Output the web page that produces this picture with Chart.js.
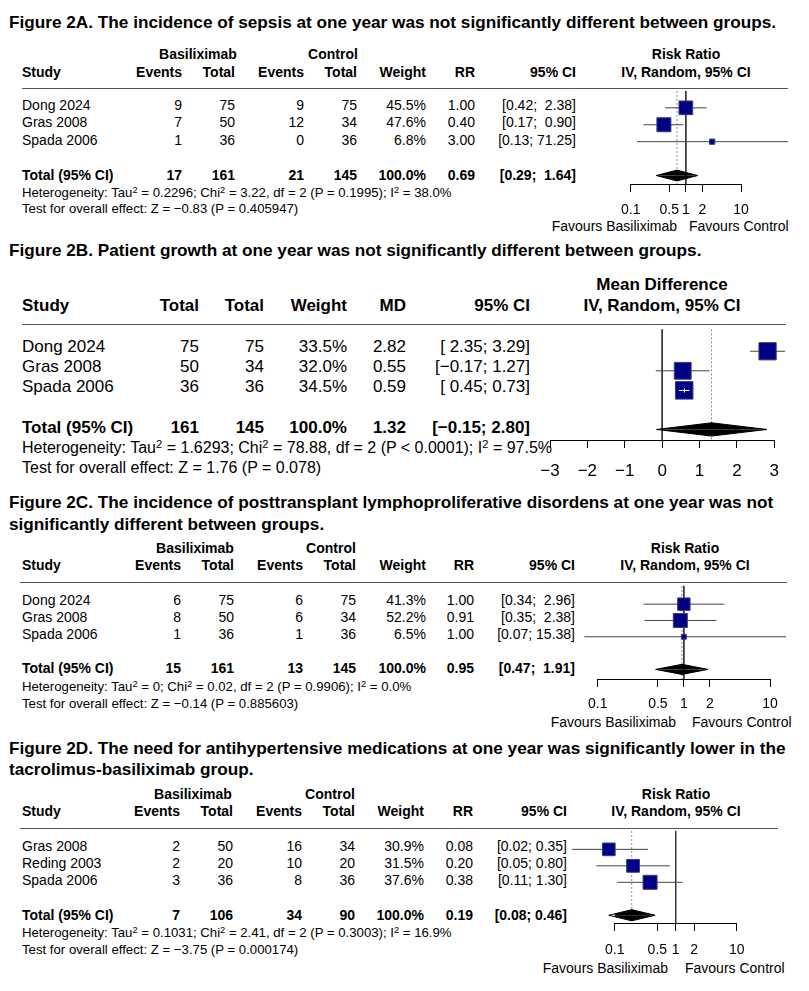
<!DOCTYPE html>
<html>
<head>
<meta charset="utf-8">
<script src="https://cdn.jsdelivr.net/npm/chart.js@4.4.1/dist/chart.umd.min.js"></script>
<style>
  body { margin: 0; background: #fff; }
  #page { position: relative; width: 809px; height: 991px; overflow: hidden;
          font-family: "Liberation Sans", Arial, sans-serif; color: #000; }
  .t { position: absolute; white-space: pre; line-height: 1; }
  .b { font-weight: bold; }
  .rule { position: absolute; height: 0; border-top: 1px solid #555; }
  canvas { position: absolute; }
  sup { font-size: 70%; line-height: 0; vertical-align: 0.45em; }
</style>
</head>
<body>
<div id="page"></div>
<script>
// ---- Figure 2A : sepsis ----
const studiesA = ["Dong 2024", "Gras 2008", "Spada 2006"];
const evBasA = [9, 7, 1];
const totBasA = [75, 50, 36];
const evCtlA = [9, 12, 0];
const totCtlA = [75, 34, 36];
const weightA = [45.5, 47.6, 6.8];
const rrA = [1.00, 0.40, 3.00];
const loA = [0.42, 0.17, 0.13];
const hiA = [2.38, 0.90, 71.25];
const pooledA = [0.69, 0.29, 1.64];
const hetA = "Heterogeneity: Tau<sup>2</sup> = 0.2296; Chi<sup>2</sup> = 3.22, df = 2 (P = 0.1995); I<sup>2</sup> = 38.0%";
const testA = "Test for overall effect: Z = \u22120.83 (P = 0.405947)";

// ---- Figure 2B : growth ----
const studiesB = ["Dong 2024", "Gras 2008", "Spada 2006"];
const totBasB = [75, 50, 36];
const totCtlB = [75, 34, 36];
const weightB = [33.5, 32.0, 34.5];
const mdB = [2.82, 0.55, 0.59];
const loB = [2.35, -0.17, 0.45];
const hiB = [3.29, 1.27, 0.73];
const pooledB = [1.32, -0.15, 2.80];
const hetB = "Heterogeneity: Tau<sup>2</sup> = 1.6293; Chi<sup>2</sup> = 78.88, df = 2 (P &lt; 0.0001); I<sup>2</sup> = 97.5%";
const testB = "Test for overall effect: Z = 1.76 (P = 0.078)";

// ---- Figure 2C : PTLD ----
const studiesC = ["Dong 2024", "Gras 2008", "Spada 2006"];
const evBasC = [6, 8, 1];
const totBasC = [75, 50, 36];
const evCtlC = [6, 6, 1];
const totCtlC = [75, 34, 36];
const weightC = [41.3, 52.2, 6.5];
const rrC = [1.00, 0.91, 1.00];
const loC = [0.34, 0.35, 0.07];
const hiC = [2.96, 2.38, 15.38];
const pooledC = [0.95, 0.47, 1.91];
const hetC = "Heterogeneity: Tau<sup>2</sup> = 0; Chi<sup>2</sup> = 0.02, df = 2 (P = 0.9906); I<sup>2</sup> = 0.0%";
const testC = "Test for overall effect: Z = \u22120.14 (P = 0.885603)";

// ---- Figure 2D : antihypertensives ----
const studiesD = ["Gras 2008", "Reding 2003", "Spada 2006"];
const evBasD = [2, 2, 3];
const totBasD = [50, 20, 36];
const evCtlD = [16, 10, 8];
const totCtlD = [34, 20, 36];
const weightD = [30.9, 31.5, 37.6];
const rrD = [0.08, 0.20, 0.38];
const loD = [0.02, 0.05, 0.11];
const hiD = [0.35, 0.80, 1.30];
const pooledD = [0.19, 0.08, 0.46];
const hetD = "Heterogeneity: Tau<sup>2</sup> = 0.1031; Chi<sup>2</sup> = 2.41, df = 2 (P = 0.3003); I<sup>2</sup> = 16.9%";
const testD = "Test for overall effect: Z = \u22123.75 (P = 0.000174)";

const ticksRR = [0.1, 0.5, 1, 2, 10];
const ticksMD = [-3, -2, -1, 0, 1, 2, 3];

const titles = [
  ["Figure 2A. The incidence of sepsis at one year was not significantly different between groups."],
  ["Figure 2B. Patient growth at one year was not significantly different between groups."],
  ["Figure 2C. The incidence of posttransplant lymphoproliferative disordens at one year was not",
   "significantly different between groups."],
  ["Figure 2D. The need for antihypertensive medications at one year was significantly lower in the",
   "tacrolimus-basiliximab group."]
];

Chart.defaults.font.family = '"Liberation Sans", Arial, sans-serif';
Chart.defaults.color = "#000";

const page = document.getElementById("page");

function put(s, x, y, size, align, bold) {
  const d = document.createElement("div");
  d.className = "t" + (bold ? " b" : "");
  d.style.fontSize = size + "px";
  d.style.top = (y - 0.49 * size) + "px";
  d.style.left = x + "px";
  if (align === "r") d.style.transform = "translateX(-100%)";
  if (align === "c") d.style.transform = "translateX(-50%)";
  d.innerHTML = s;
  page.appendChild(d);
  return d;
}

function rule(x1, x2, y) {
  const d = document.createElement("div");
  d.className = "rule";
  d.style.left = x1 + "px";
  d.style.width = (x2 - x1) + "px";
  d.style.top = y + "px";
  page.appendChild(d);
}

function fmt(v) {
  return (v < 0 ? "\u2212" : "") + Math.abs(v).toFixed(2);
}

function ciText(los, his) {
  const L = los.map(fmt), H = his.map(fmt);
  const wl = Math.max(...L.map(s => s.length));
  const wh = Math.max(...H.map(s => s.length));
  return L.map((l, i) => "[" + l.padStart(wl) + "; " + H[i].padStart(wh) + "]");
}

const sum = a => a.reduce((s, v) => s + v, 0);

// white CI segment when the interval sits inside its box
const innerCI = {
  id: "innerCI",
  afterDatasetsDraw(chart, args, o) {
    if (!o || !o.est) return;
    const xs = chart.scales.x, ys = chart.scales.y, ctx = chart.ctx;
    o.est.forEach((e, i) => {
      const a = xs.getPixelForValue(o.lo[i]);
      const b = xs.getPixelForValue(o.hi[i]);
      const c = xs.getPixelForValue(e);
      const h = o.sides[i] / 2;
      if (a > c - h && b < c + h) {
        const y = Math.round(ys.getPixelForValue(i + 1)) + 0.5;
        ctx.save();
        ctx.strokeStyle = "#fff";
        ctx.lineWidth = 1;
        ctx.beginPath();
        ctx.moveTo(a, y); ctx.lineTo(b, y);
        ctx.moveTo(Math.round(c) + 0.5, y - 2); ctx.lineTo(Math.round(c) + 0.5, y + 2);
        ctx.stroke();
        ctx.restore();
      }
    });
  }
};

function forest(p) {
  const cv = document.createElement("canvas");
  cv.width = p.box.w; cv.height = p.box.h;
  cv.style.left = p.box.x + "px"; cv.style.top = p.box.y + "px";
  page.appendChild(cv);

  const wmax = Math.max(...p.weight);
  const sides = p.weight.map(w => p.maxBox * Math.sqrt(w / wmax));
  const [pe, pl, ph] = p.pooled;
  const ty = p.est.length + 2;
  const ds = [];

  p.est.forEach((e, i) => ds.push({
    type: "line", data: [{ x: p.lo[i], y: i + 1 }, { x: p.hi[i], y: i + 1 }],
    borderColor: "#444", borderWidth: 1, pointRadius: 0, clip: false, order: 2
  }));
  ds.push({
    type: "scatter", data: p.est.map((e, i) => ({ x: e, y: i + 1 })),
    pointStyle: "rect", pointRadius: sides.map(s => s / Math.SQRT2),
    backgroundColor: "#000086", borderColor: "#3c3c78", borderWidth: 1, clip: false, order: 1
  });
  [-1, 1].forEach(s => ds.push({
    type: "line", data: [{ x: pl, y: ty }, { x: pe, y: ty + s * p.dh }, { x: ph, y: ty }],
    fill: { value: ty }, backgroundColor: "#000", borderColor: "#000", borderWidth: 1,
    pointRadius: 0, clip: false, order: 1
  }));
  ds.push({
    type: "line", data: [{ x: pe, y: p.ymin }, { x: pe, y: p.ymax }],
    borderColor: "#8a8a8a", borderWidth: 1, borderDash: [2, 2], pointRadius: 0, clip: false, order: 3
  });
  ds.push({
    type: "line", data: [{ x: p.ref, y: p.ymin }, { x: p.ref, y: p.ymax }],
    borderColor: "#333", borderWidth: 1, pointRadius: 0, clip: false, order: 4
  });

  new Chart(cv, {
    type: "scatter",
    data: { datasets: ds },
    options: {
      responsive: false, animation: false, events: [],
      layout: { padding: { left: p.pad.l, right: p.pad.r, top: p.pad.t, bottom: 0 } },
      plugins: {
        legend: { display: false }, tooltip: { enabled: false },
        innerCI: { est: p.est, lo: p.lo, hi: p.hi, sides: sides }
      },
      scales: {
        x: {
          type: p.log ? "logarithmic" : "linear",
          min: p.ticks[0], max: p.ticks[p.ticks.length - 1],
          afterBuildTicks: s => { s.ticks = p.ticks.map(v => ({ value: v })); },
          afterFit: s => { s.height = p.axisH; },
          ticks: {
            autoSkip: false, maxRotation: 0, minRotation: 0, padding: p.tickPad,
            color: "#000", font: { size: p.font },
            callback: v => (v < 0 ? "\u2212" + Math.abs(v) : String(v))
          },
          grid: { drawOnChartArea: false, drawTicks: true, tickLength: 8, color: "#000" },
          border: { display: true, color: "#000", width: 1 }
        },
        y: { type: "linear", reverse: true, min: p.ymin, max: p.ymax, display: false }
      }
    },
    plugins: [innerCI]
  });
}

// ---- tables ----
function tableRR(t) {
  const fs = 14;
  put("Basiliximab", t.basC, t.h1, fs, "c", true);
  put("Control", t.ctlC, t.h1, fs, "c", true);
  put("Risk Ratio", t.rrC, t.h1, fs, "c", true);
  put("IV, Random, 95% CI", t.rrC, t.h2, fs, "c", true);
  put("Study", 22, t.h2, fs, "l", true);
  const heads = ["Events", "Total", "Events", "Total", "Weight", "RR", "95% CI"];
  heads.forEach((h, k) => put(h, t.cols[k], t.h2, fs, "r", true));
  rule(t.ruleX[0], t.ruleX[1], t.line);
  const ci = ciText(t.lo.concat([t.pooled[1]]), t.hi.concat([t.pooled[2]]));
  t.studies.forEach((s, i) => {
    const y = t.rows[i];
    put(s, 22, y, fs, "l", false);
    const vals = [t.eb[i], t.tb[i], t.ec[i], t.tc[i], t.w[i].toFixed(1) + "%", t.est[i].toFixed(2), ci[i]];
    vals.forEach((v, k) => put(String(v), t.cols[k], y, fs, "r", false));
  });
  put("Total (95% CI)", 22, t.total, fs, "l", true);
  const tv = [sum(t.eb), sum(t.tb), sum(t.ec), sum(t.tc), "100.0%", t.pooled[0].toFixed(2), ci[ci.length - 1]];
  tv.forEach((v, k) => put(String(v), t.cols[k], t.total, fs, "r", true));
  put(t.het, 22, t.hetY, 13.2, "l", false);
  put(t.test, 22, t.testY, 13.2, "l", false);
  put("Favours Basiliximab", t.fav[0], t.favY, fs, "r", false);
  put("Favours Control", t.fav[1], t.favY, fs, "l", false);
}

function tableMD(t) {
  const fs = 17;
  put("Mean Difference", t.rrC, t.h1, fs, "c", true);
  put("IV, Random, 95% CI", t.rrC, t.h2, fs, "c", true);
  put("Study", 22, t.h2, fs, "l", true);
  const heads = ["Total", "Total", "Weight", "MD", "95% CI"];
  heads.forEach((h, k) => put(h, t.cols[k], t.h2, fs, "r", true));
  rule(t.ruleX[0], t.ruleX[1], t.line);
  const ci = ciText(t.lo.concat([t.pooled[1]]), t.hi.concat([t.pooled[2]]));
  t.studies.forEach((s, i) => {
    const y = t.rows[i];
    put(s, 22, y, fs, "l", false);
    const vals = [t.tb[i], t.tc[i], t.w[i].toFixed(1) + "%", t.est[i].toFixed(2), ci[i]];
    vals.forEach((v, k) => put(String(v), t.cols[k], y, fs, "r", false));
  });
  put("Total (95% CI)", 22, t.total, fs, "l", true);
  const tv = [sum(t.tb), sum(t.tc), "100.0%", t.pooled[0].toFixed(2), ci[ci.length - 1]];
  tv.forEach((v, k) => put(String(v), t.cols[k], t.total, fs, "r", true));
  put(t.het, 22, t.hetY, 16, "l", false);
  put(t.test, 22, t.testY, 16, "l", false);
}

// titles
const titleY = [[22], [250], [502, 524], [748, 769]];
const titleEls = [];
titles.forEach((lines, k) => lines.forEach((s, j) => {
  const d = put(s, 9, titleY[k][j], 16.5, "l", true);
  d.style.transformOrigin = "0 0";
  titleEls.push(d);
}));
const tw = titleEls[0].getBoundingClientRect().width;
const sx = 767 / tw;
titleEls.forEach(d => { d.style.transform = "scaleX(" + sx + ")"; });

// panel A
tableRR({
  studies: studiesA, eb: evBasA, tb: totBasA, ec: evCtlA, tc: totCtlA, w: weightA,
  est: rrA, lo: loA, hi: hiA, pooled: pooledA, het: hetA, test: testA,
  basC: 198, ctlC: 333, rrC: 686, h1: 54, h2: 72, line: 88, ruleX: [22, 788],
  cols: [182, 235, 304, 357, 426, 475, 576],
  rows: [105, 122, 140], total: 175, hetY: 192, testY: 208, fav: [677, 689], favY: 226
});
forest({
  box: { x: 560, y: 80, w: 245, h: 160 }, pad: { l: 70.7, r: 64, t: 8 }, axisH: 56,
  log: true, ticks: ticksRR, tickPad: 10, font: 14, ref: 1,
  est: rrA, lo: loA, hi: hiA, weight: weightA, pooled: pooledA,
  maxBox: 14, dh: 0.32, ymin: 0, ymax: 5.5
});

// panel B
tableMD({
  studies: studiesB, tb: totBasB, tc: totCtlB, w: weightB,
  est: mdB, lo: loB, hi: hiB, pooled: pooledB, het: hetB, test: testB,
  rrC: 662, h1: 284, h2: 305, line: 324, ruleX: [22, 786],
  cols: [199, 264, 347, 406, 530],
  rows: [346, 366, 386], total: 427, hetY: 448, testY: 468
});
forest({
  box: { x: 520, y: 316, w: 289, h: 170 }, pad: { l: 30, r: 34.7, t: 8 }, axisH: 46,
  log: false, ticks: ticksMD, tickPad: 13, font: 17, ref: 0,
  est: mdB, lo: loB, hi: hiB, weight: weightB, pooled: pooledB,
  maxBox: 17.5, dh: 0.34, ymin: -0.12, ymax: 5.54
});

// panel C
tableRR({
  studies: studiesC, eb: evBasC, tb: totBasC, ec: evCtlC, tc: totCtlC, w: weightC,
  est: rrC, lo: loC, hi: hiC, pooled: pooledC, het: hetC, test: testC,
  basC: 195, ctlC: 331, rrC: 685, h1: 548, h2: 565, line: 582, ruleX: [20, 787],
  cols: [181, 234, 303, 356, 426, 474, 575],
  rows: [600, 617, 634], total: 668, hetY: 686, testY: 703, fav: [676, 692], favY: 722
});
forest({
  box: { x: 570, y: 575, w: 235, h: 150 }, pad: { l: 27.7, r: 35, t: 7 }, axisH: 46,
  log: true, ticks: ticksRR, tickPad: 9, font: 14, ref: 1,
  est: rrC, lo: loC, hi: hiC, weight: weightC, pooled: pooledC,
  maxBox: 14, dh: 0.31, ymin: -0.12, ymax: 5.59
});

// panel D
tableRR({
  studies: studiesD, eb: evBasD, tb: totBasD, ec: evCtlD, tc: totCtlD, w: weightD,
  est: rrD, lo: loD, hi: hiD, pooled: pooledD, het: hetD, test: testD,
  basC: 193, ctlC: 330, rrC: 676, h1: 794, h2: 811, line: 828, ruleX: [20, 778],
  cols: [180, 233, 302, 355, 424, 473, 567],
  rows: [846, 863, 880], total: 915, hetY: 932, testY: 949, fav: [668, 685], favY: 968
});
forest({
  box: { x: 560, y: 820, w: 245, h: 150 }, pad: { l: 54.7, r: 68.3, t: 8 }, axisH: 47,
  log: true, ticks: ticksRR, tickPad: 11, font: 14, ref: 1,
  est: rrD, lo: loD, hi: hiD, weight: weightD, pooled: pooledD,
  maxBox: 14, dh: 0.34, ymin: -0.12, ymax: 5.47
});
</script>
</body>
</html>
